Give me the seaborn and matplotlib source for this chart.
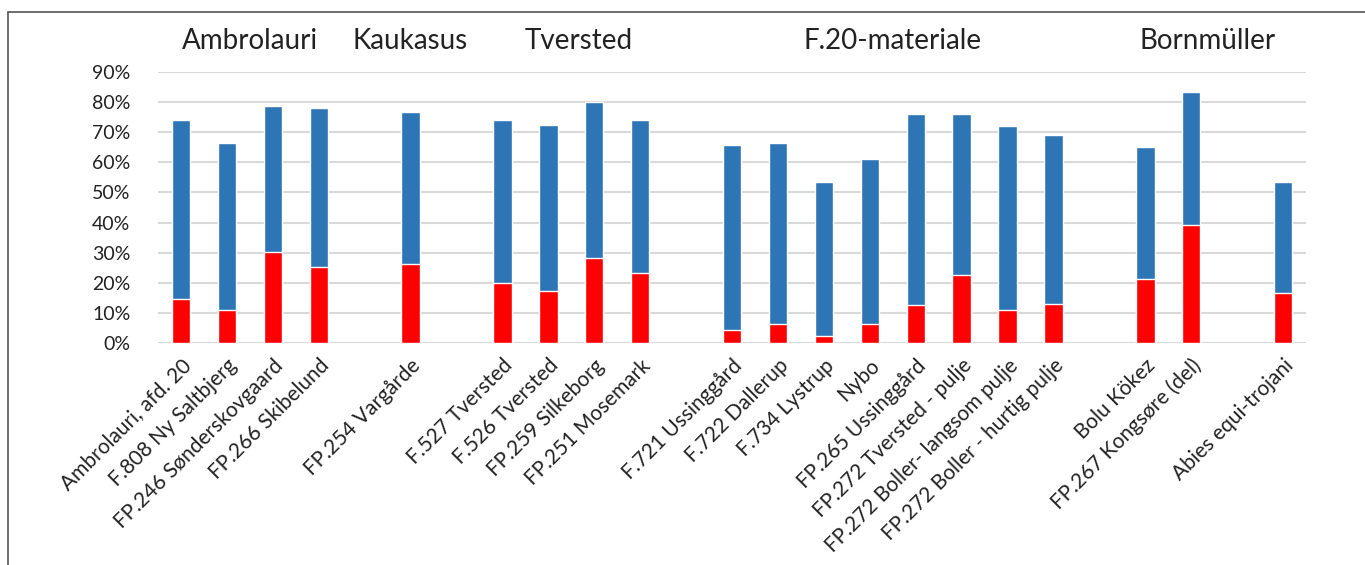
"""Stacked bars - red share inside blue total"""
import numpy as np
import pandas as pd
import matplotlib.pyplot as plt
import seaborn as sns
from matplotlib.ticker import PercentFormatter

# Data
labels = ['Ambrolauri, afd. 20', 'F.808 Ny Saltbjerg', 'FP.246 Sønderskovgaard',
          'FP.266 Skibelund', 'FP.254 Vargårde', 'F.527 Tversted', 'F.526 Tversted',
          'FP.259 Silkeborg', 'FP.251 Mosemark', 'F.721 Ussinggård', 'F.722 Dallerup',
          'F.734 Lystrup', 'Nybo', 'FP.265 Ussinggård', 'FP.272 Tversted - pulje',
          'FP.272 Boller- langsom pulje', 'FP.272 Boller - hurtig pulje', 'Bolu Kökez',
          'FP.267 Kongsøre (del)', 'Abies equi-trojani']
total = [0.740, 0.665, 0.787, 0.780, 0.766, 0.740, 0.725, 0.801, 0.740,
         0.657, 0.664, 0.535, 0.610, 0.760, 0.760, 0.719, 0.692,
         0.650, 0.835, 0.535]
red = [0.146, 0.111, 0.301, 0.254, 0.262, 0.199, 0.172, 0.281, 0.234,
       0.043, 0.063, 0.022, 0.063, 0.126, 0.227, 0.111, 0.131,
       0.213, 0.391, 0.166]
# groups and the empty slots between them
groups = ['Ambrolauri', 'Kaukasus', 'Tversted', 'F.20-materiale', 'Bornmüller']
group_members = [labels[0:4], labels[4:5], labels[5:9], labels[9:17], labels[17:20]]
order = (labels[0:4] + ['gap1'] + labels[4:5] + ['gap2'] + labels[5:9] + ['gap3']
         + labels[9:17] + ['gap4'] + labels[17:19] + ['gap5'] + labels[19:20])

df = pd.DataFrame({'label': labels, 'total': total, 'red': red})

sns.set_style('white')
plt.rcParams['font.family'] = ['Lato', 'DejaVu Sans']

fig = plt.figure(figsize=(13.65, 5.65), dpi=100)
ax = fig.add_axes([0.1158, 0.3929, 0.8410, 0.4797])

sns.barplot(df, x='label', y='total', order=order, color='#2E75B6',
            width=0.4, saturation=1, ax=ax)
sns.barplot(df, x='label', y='red', order=order, color='#FF0000',
            width=0.4, saturation=1, ax=ax)

ax.set_ylim(0, 0.9)
ax.set_yticks(np.arange(0, 0.91, 0.1))
ax.yaxis.set_major_formatter(PercentFormatter(1.0, decimals=0))
ax.grid(axis='y', color='#d9d9d9', linewidth=1.5)
ax.set_axisbelow(True)
sns.despine(ax=ax, left=True, bottom=True)
ax.tick_params(axis='both', length=0, colors='#222222')
ax.tick_params(axis='y', labelsize=14, pad=20)
ax.set_xlabel('')
ax.set_ylabel('')
ax.set_xlim(-0.5, len(order) - 0.5)

ax.set_xticks(range(len(order)))
ax.set_xticklabels(['' if o.startswith('gap') else o for o in order],
                   rotation=45, ha='right', rotation_mode='anchor')
ax.tick_params(axis='x', labelsize=15, pad=9)

# group headings
for name, members in zip(groups, group_members):
    xc = (order.index(members[0]) + order.index(members[-1])) / 2
    if name == 'Bornmüller':
        xc -= 0.15
    if name == 'Tversted':
        xc += 0.15
    ax.text(xc, 1.115, name, transform=ax.get_xaxis_transform(),
            ha='center', va='center', fontsize=20, color='#222222')

# outer frame of the chart
fig.add_artist(plt.Line2D([8 / 1365, 1.0], [1 - 12 / 565, 1 - 12 / 565],
                          color='#555555', linewidth=1.2, transform=fig.transFigure))
fig.add_artist(plt.Line2D([8 / 1365, 8 / 1365], [0, 1 - 12 / 565],
                          color='#555555', linewidth=1.2, transform=fig.transFigure))

plt.savefig('out.png', dpi=100)
